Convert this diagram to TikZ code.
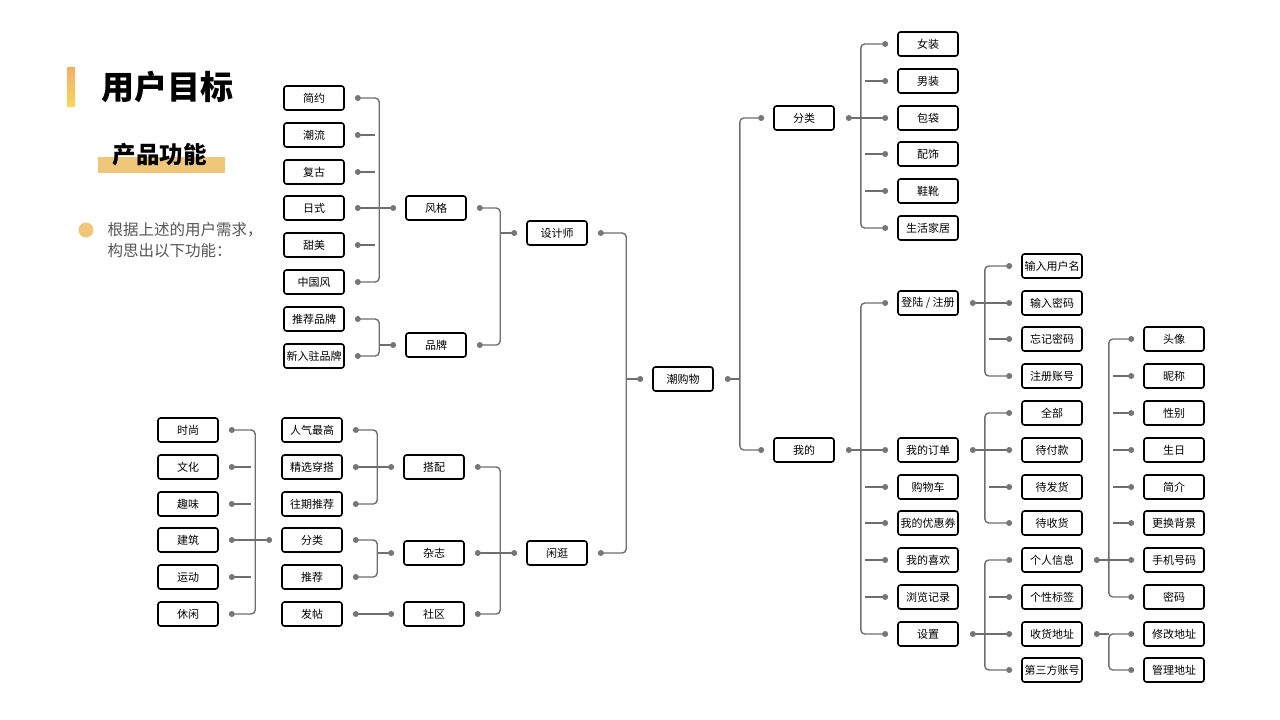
\documentclass[tikz,border=0pt]{standalone}
\usepackage{fontspec}
\setmainfont{Noto Sans CJK SC}
\usetikzlibrary{calc}

\definecolor{linkgray}{RGB}{110,110,112}
\definecolor{dotgray}{RGB}{118,118,120}
\definecolor{gold}{RGB}{240,199,122}
\definecolor{barorange}{RGB}{241,176,104}
\definecolor{baryellow}{RGB}{249,212,92}
\definecolor{notegray}{RGB}{85,85,85}

\tikzset{
  box/.style={draw=black, line width=1.6pt, rounded corners=2.5pt, fill=white,
    minimum width=60pt, minimum height=24pt, inner sep=0pt,
    font=\fontsize{11}{11}\selectfont},
  link/.style={draw=linkgray, line width=1.4pt},
}

\newcommand\dotat[1]{\fill[dotgray] (#1) circle[radius=3pt];}
% children on the right of the parent
\newcommand\rbus[3]{%
  \coordinate (#1-ro) at ($(#1.east)+(14,0)$);
  \coordinate (#1-rb) at ($(#1.east)+(26,0)$);
  \coordinate (#2-ri) at ($(#2.west)+(-12,0)$);
  \coordinate (#3-ri) at ($(#3.west)+(-12,0)$);
  \draw[link] (#1-ro) -- (#1-ro -| #1-rb);
  \draw[link, rounded corners=4pt] (#2-ri) -- (#2-ri -| #1-rb) -- (#3-ri -| #1-rb) -- (#3-ri);
  \dotat{#1-ro}\dotat{#2-ri}\dotat{#3-ri}}
\newcommand\rmid[3][4.5]{%
  \coordinate (#3-ri) at ($(#3.west)+(-12,0)$);
  \draw[link] (#3-ri) -- ($(#3-ri -| #2-rb)+(#1,0)$);
  \dotat{#3-ri}}
% children on the left of the parent
\newcommand\lbus[3]{%
  \coordinate (#1-lo) at ($(#1.west)+(-12,0)$);
  \coordinate (#1-lb) at ($(#1.west)+(-26,0)$);
  \coordinate (#2-li) at ($(#2.east)+(13,0)$);
  \coordinate (#3-li) at ($(#3.east)+(13,0)$);
  \draw[link] (#1-lo) -- (#1-lo -| #1-lb);
  \draw[link, rounded corners=4pt] (#2-li) -- (#2-li -| #1-lb) -- (#3-li -| #1-lb) -- (#3-li);
  \dotat{#1-lo}\dotat{#2-li}\dotat{#3-li}}
\newcommand\lmid[3][4.5]{%
  \coordinate (#3-li) at ($(#3.east)+(13,0)$);
  \draw[link] (#3-li) -- ($(#3-li -| #2-lb)+(-#1,0)$);
  \dotat{#3-li}}

\begin{document}
\begin{tikzpicture}[x=1pt, y=-1pt]
  \useasboundingbox (0,0) rectangle (1280,720);

  %%%%% HEADER %%%%%
  \shade[top color=barorange, bottom color=baryellow] (67,67) rectangle (75,106);
  \node[anchor=west, font=\fontsize{33}{33}\selectfont\bfseries] (title) at (98,87) {用户目标};
  \fill[gold] (98,157) rectangle (225,173);
  \node[anchor=west, font=\fontsize{23.5}{24}\selectfont\bfseries] (subtitle) at (109,155) {产品功能};
  \fill[gold] (86,230) circle[radius=7.5pt];
  \node[anchor=west, align=left, text=notegray, font=\fontsize{15.5}{21}\selectfont] (note) at (104,240.5)
    {根据上述的用户需求，\\构思出以下功能：};

  %%%%% LEFT TOP %%%%%
  \node[box] (simple)   at (314,98)  {简约};
  \node[box] (trendy)   at (314,135) {潮流};
  \node[box] (retro)    at (314,172) {复古};
  \node[box] (japanese) at (314,208) {日式};
  \node[box] (sweet)    at (314,245) {甜美};
  \node[box] (chinese)  at (314,282) {中国风};
  \node[box] (recbrand) at (314,319) {推荐品牌};
  \node[box] (newbrand) at (314,356) {新入驻品牌};
  \node[box] (style)    at (436,208) {风格};
  \node[box] (brand)    at (436,345) {品牌};
  \node[box] (designer) at (557,233) {设计师};

  %%%%% LEFT BOTTOM %%%%%
  \node[box] (fashion)  at (188,430) {时尚};
  \node[box] (culture)  at (188,467) {文化};
  \node[box] (fun)      at (188,504) {趣味};
  \node[box] (archi)    at (188,540) {建筑};
  \node[box] (sport)    at (188,577) {运动};
  \node[box] (leisure)  at (188,614) {休闲};
  \node[box] (popular)  at (312,430) {人气最高};
  \node[box] (picks)    at (312,467) {精选穿搭};
  \node[box] (past)     at (312,504) {往期推荐};
  \node[box] (magcat)   at (312,540) {分类};
  \node[box] (recommend) at (312,577) {推荐};
  \node[box] (post)     at (312,614) {发帖};
  \node[box] (match)    at (434,467) {搭配};
  \node[box] (magazine) at (434,553) {杂志};
  \node[box] (community) at (434,614) {社区};
  \node[box] (browse)   at (557,553) {闲逛};

  \node[box] (root)     at (683,379) {潮购物};

  %%%%% RIGHT %%%%%
  \node[box] (category) at (804,118) {分类};
  \node[box] (mine)     at (804,450) {我的};
  \node[box] (women)    at (928,44)  {女装};
  \node[box] (men)      at (928,81)  {男装};
  \node[box] (bags)     at (928,118) {包袋};
  \node[box] (accessory) at (928,154) {配饰};
  \node[box] (shoes)    at (928,191) {鞋靴};
  \node[box] (home)     at (928,228) {生活家居};
  \node[box] (login)    at (928,303) {登陆 / 注册};
  \node[box] (orders)   at (928,450) {我的订单};
  \node[box] (cart)     at (928,487) {购物车};
  \node[box] (coupons)  at (928,523) {我的优惠券};
  \node[box] (likes)    at (928,560) {我的喜欢};
  \node[box] (history)  at (928,597) {浏览记录};
  \node[box] (settings) at (928,634) {设置};
  \node[box] (username) at (1052,266) {输入用户名};
  \node[box] (password) at (1052,303) {输入密码};
  \node[box] (forgot)   at (1052,339) {忘记密码};
  \node[box] (register) at (1052,376) {注册账号};
  \node[box] (all)      at (1052,413) {全部};
  \node[box] (unpaid)   at (1052,450) {待付款};
  \node[box] (unshipped) at (1052,487) {待发货};
  \node[box] (unreceived) at (1052,523) {待收货};
  \node[box] (profile)  at (1052,560) {个人信息};
  \node[box] (tags)     at (1052,597) {个性标签};
  \node[box] (address)  at (1052,634) {收货地址};
  \node[box] (third)    at (1052,670) {第三方账号};
  \node[box] (avatar)   at (1174,339) {头像};
  \node[box] (nickname) at (1174,376) {昵称};
  \node[box] (gender)   at (1174,413) {性别};
  \node[box] (birthday) at (1174,450) {生日};
  \node[box] (bio)      at (1174,487) {简介};
  \node[box] (background) at (1174,523) {更换背景};
  \node[box] (phone)    at (1174,560) {手机号码};
  \node[box] (pwd)      at (1174,597) {密码};
  \node[box] (editaddr) at (1174,634) {修改地址};
  \node[box] (manageaddr) at (1174,670) {管理地址};

  %%%%% CONNECTORS %%%%%
  \lbus{style}{simple}{chinese}
  \lmid{style}{trendy}\lmid{style}{retro}\lmid[0]{style}{japanese}\lmid{style}{sweet}
  \lbus{brand}{recbrand}{newbrand}
  \lbus{designer}{style}{brand}
  \lbus{root}{designer}{browse}
  \lbus{browse}{match}{community}\lmid[0]{browse}{magazine}
  \lbus{match}{popular}{past}\lmid[0]{match}{picks}
  \lbus{magazine}{magcat}{recommend}
  \coordinate (post-li) at ($(post.east)+(13,0)$);
  \coordinate (community-lo) at ($(community.west)+(-12,0)$);
  \draw[link] (post-li) -- (community-lo);
  \dotat{post-li}\dotat{community-lo}
  \lbus{magcat}{fashion}{leisure}
  \lmid{magcat}{culture}\lmid{magcat}{fun}\lmid[0]{magcat}{archi}\lmid{magcat}{sport}

  \rbus{root}{category}{mine}
  \rbus{category}{women}{home}
  \rmid{category}{men}\rmid[0]{category}{bags}\rmid{category}{accessory}\rmid{category}{shoes}
  \rbus{mine}{login}{settings}
  \rmid[0]{mine}{orders}\rmid{mine}{cart}\rmid{mine}{coupons}\rmid{mine}{likes}\rmid{mine}{history}
  \rbus{login}{username}{register}\rmid[0]{login}{password}\rmid{login}{forgot}
  \rbus{orders}{all}{unreceived}\rmid[0]{orders}{unpaid}\rmid{orders}{unshipped}
  \rbus{settings}{profile}{third}\rmid{settings}{tags}\rmid[0]{settings}{address}
  \rbus{profile}{avatar}{pwd}
  \rmid{profile}{nickname}\rmid{profile}{gender}\rmid{profile}{birthday}\rmid{profile}{bio}
  \rmid{profile}{background}\rmid[0]{profile}{phone}
  \rbus{address}{editaddr}{manageaddr}
\end{tikzpicture}
\end{document}
